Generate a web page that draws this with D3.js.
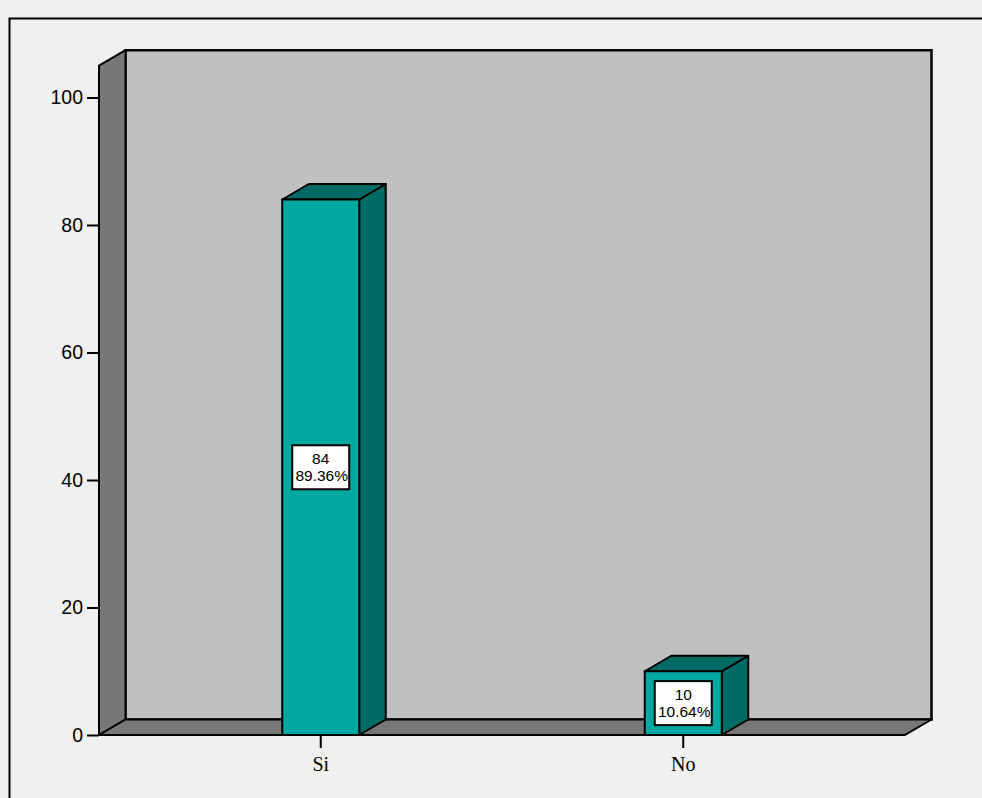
<!DOCTYPE html>
<html>
<head>
<meta charset="utf-8">
<script src="https://cdn.jsdelivr.net/npm/d3@7"></script>
<style>
  html, body { margin: 0; padding: 0; background: #f0f0f0; overflow: hidden; }
  svg { display: block; }
</style>
</head>
<body>
<svg id="chart" width="982" height="798"></svg>
<script>
// ---- data ----
const categories = ["Si", "No"];
const counts = [84, 10];
const percents = ["89.36%", "10.64%"];
const yTicks = [0, 20, 40, 60, 80, 100];
const yMax = 105;

// ---- layout ----
const W = 982, H = 798;
const left = 99, right = 905, bottom = 735;
const depthX = 26.5, depthY = 15.5;

const svg = d3.select("#chart");
svg.append("rect").attr("width", W).attr("height", H).attr("fill", "#f0f0f0");

// outer frame
svg.append("rect")
  .attr("x", 9.5).attr("y", 18.5)
  .attr("width", W + 20).attr("height", H + 20)
  .attr("fill", "none").attr("stroke", "#000").attr("stroke-width", 2);

const y = d3.scaleLinear().domain([0, yMax]).range([bottom, bottom - yMax * 6.375]);
const x = d3.scaleBand().domain(categories).range([left, right])
  .paddingInner(0.7876).paddingOuter(0.5055);

const line = d3.line();
const yTop = y(yMax);

// back wall
svg.append("path")
  .attr("d", line([[left + depthX, yTop - depthY], [right + depthX, yTop - depthY],
                   [right + depthX, bottom - depthY], [left + depthX, bottom - depthY]]) + "Z")
  .attr("fill", "#c0c0c0").attr("stroke", "#000").attr("stroke-width", 2.5)
  .attr("stroke-linejoin", "miter");

// left wall
svg.append("path")
  .attr("d", line([[left, yTop], [left + depthX, yTop - depthY],
                   [left + depthX, bottom - depthY], [left, bottom]]) + "Z")
  .attr("fill", "#777777").attr("stroke", "#000").attr("stroke-width", 2)
  .attr("stroke-linejoin", "round");

// floor
svg.append("path")
  .attr("d", line([[left, bottom], [left + depthX, bottom - depthY],
                   [right + depthX, bottom - depthY], [right, bottom]]) + "Z")
  .attr("fill", "#777777").attr("stroke", "#000").attr("stroke-width", 2)
  .attr("stroke-linejoin", "round");

// bars
const bars = svg.append("g").selectAll("g").data(categories).join("g");
bars.each(function(c, i) {
  const g = d3.select(this);
  const x0 = x(c), x1 = x(c) + x.bandwidth();
  const yv = y(counts[i]), y0 = y(0);
  // side
  g.append("path")
    .attr("d", line([[x1, yv], [x1 + depthX, yv - depthY], [x1 + depthX, y0 - depthY], [x1, y0]]) + "Z")
    .attr("fill", "#006a65").attr("stroke", "#000").attr("stroke-width", 2)
    .attr("stroke-linejoin", "round");
  // top
  g.append("path")
    .attr("d", line([[x0, yv], [x0 + depthX, yv - depthY], [x1 + depthX, yv - depthY], [x1, yv]]) + "Z")
    .attr("fill", "#006a65").attr("stroke", "#000").attr("stroke-width", 2)
    .attr("stroke-linejoin", "round");
  // front
  g.append("rect")
    .attr("x", x0).attr("y", yv).attr("width", x.bandwidth()).attr("height", y0 - yv)
    .attr("fill", "#00a8a2").attr("stroke", "#000").attr("stroke-width", 2);
  // label box
  const cx = x0 + x.bandwidth() / 2, cy = y(counts[i] / 2);
  g.append("rect")
    .attr("x", cx - 28.5).attr("y", cy - 22).attr("width", 57).attr("height", 44)
    .attr("fill", "#fff").attr("stroke", "#000").attr("stroke-width", 2);
  g.append("text")
    .attr("x", cx).attr("y", cy - 3)
    .attr("text-anchor", "middle")
    .attr("font-family", "Liberation Sans, Arial, sans-serif").attr("font-size", 15.5)
    .text(counts[i]);
  g.append("text")
    .attr("x", cx + 1).attr("y", cy + 13.5)
    .attr("text-anchor", "middle")
    .attr("font-family", "Liberation Sans, Arial, sans-serif").attr("font-size", 15.5)
    .text(percents[i]);
});

// y axis
const yAxis = svg.append("g")
  .attr("transform", `translate(${left},0)`)
  .call(d3.axisLeft(y).tickValues(yTicks).tickSize(12).tickPadding(4));
yAxis.select(".domain").remove();
yAxis.selectAll(".tick line").attr("stroke", "#000").attr("stroke-width", 2);
yAxis.selectAll(".tick text")
  .attr("fill", "#000")
  .attr("font-family", "Liberation Sans, Arial, sans-serif")
  .attr("font-size", 19.5);

// x axis
const xAxis = svg.append("g")
  .attr("transform", `translate(0,${bottom})`)
  .call(d3.axisBottom(x).tickSize(13).tickPadding(9));
xAxis.select(".domain").remove();
xAxis.selectAll(".tick line").attr("stroke", "#000").attr("stroke-width", 2);
xAxis.selectAll(".tick text")
  .attr("fill", "#000")
  .attr("font-family", "Liberation Serif, Times New Roman, serif")
  .attr("font-size", 20);
</script>
</body>
</html>
